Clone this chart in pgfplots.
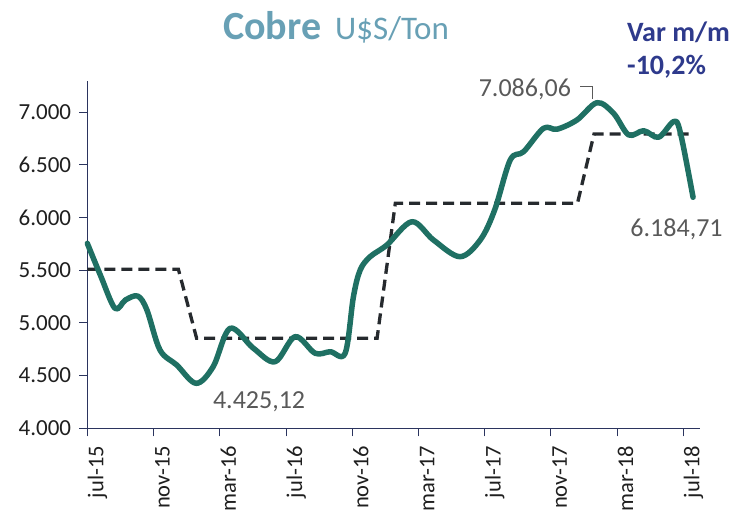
\documentclass[border=0pt]{standalone}
\usepackage{pgfplots}
\pgfplotsset{compat=1.18}
\usepackage{fontspec}
\setmainfont{Carlito}
\definecolor{cuGreen}{RGB}{31,112,99}
\definecolor{cuDash}{RGB}{38,42,46}
\definecolor{cuAxis}{RGB}{43,52,94}
\definecolor{cuTitle}{RGB}{104,160,181}
\definecolor{cuVar}{RGB}{46,58,140}
\definecolor{cuLabel}{RGB}{89,89,89}
\begin{document}
\begin{tikzpicture}[x=1bp,y=1bp]
\useasboundingbox (0,0) rectangle (740,513);
\node[anchor=base west, inner sep=0, text=cuTitle, font=\fontsize{40bp}{40bp}\selectfont\bfseries] at (223,473.7) {Cobre};
\node[anchor=base west, inner sep=0, text=cuTitle, font=\fontsize{33bp}{33bp}\selectfont] at (335,473.7) {U\$S/Ton};
\node[anchor=base west, inner sep=0, text=cuVar, font=\fontsize{28bp}{28bp}\selectfont\bfseries] at (627,471.3) {Var m/m};
\node[anchor=base west, inner sep=0, text=cuVar, font=\fontsize{28bp}{28bp}\selectfont\bfseries] at (627,438) {-10,2\%};
\begin{axis}[
  at={(87.3bp,84.7bp)}, anchor=south west,
  scale only axis, width=612.7bp, height=347.3bp,
  xmin=0, xmax=37, ymin=4000, ymax=7297,
  axis x line*=bottom, axis y line*=left,
  axis line style={cuAxis, line width=1.3bp, -},
  xtick={0,4,...,36},
  xticklabels={jul-15,nov-15,mar-16,jul-16,nov-16,mar-17,jul-17,nov-17,mar-18,jul-18},
  ytick={4000,4500,...,7000},
  yticklabels={4.000,4.500,5.000,5.500,6.000,6.500,7.000},
  tick align=outside, major tick length=8bp,
  tick style={cuAxis, line width=1bp},
  tick label style={font=\fontsize{23bp}{23bp}\selectfont, text=black!88, inner sep=0pt},
  xticklabel style={rotate=90, anchor=base east, yshift=-16bp, font=\fontsize{22.5bp}{22.5bp}\selectfont},
  xticklabel shift=9.5bp,
  yticklabel style={anchor=east},
  yticklabel shift=8bp,
  clip=false,
]
\addplot[cuDash, line width=3.3bp, dash pattern=on 11bp off 6bp] coordinates {
  (0,5510) (5.5,5510) (6.6,4855) (17.5,4855) (18.6,6136) (29.6,6136) (30.6,6794) (36.5,6794)
};
\addplot[cuGreen, line width=5.5bp, smooth, tension=0.55, line cap=round, line join=round] coordinates {
  (0,5756) (0.8,5450) (1.67,5139) (2.3,5218) (3.05,5255) (3.6,5123) (4.39,4743) (5.4,4601)
  (6.57,4427) (7.6,4585) (8.62,4949) (10.03,4760) (11.34,4632) (12.55,4870) (13.76,4712)
  (14.67,4727) (15.57,4712) (16.07,5249) (16.48,5503) (17.08,5629) (18.09,5740) (19.6,5961)
  (20.9,5788) (22.5,5629) (23.73,5788) (24.6,6073) (25.54,6547) (26.35,6626) (27.55,6848)
  (28.36,6839) (29.57,6927) (30.78,7091) (31.78,6990) (32.69,6785) (33.6,6825) (34.5,6763)
  (35.4,6911) (35.8,6816) (36.58,6193)
};
\node[anchor=base west, inner sep=0, text=cuLabel, font=\fontsize{26bp}{26bp}\selectfont] at (axis cs:7.58,4190) {4.425,12};
\node[anchor=base west, inner sep=0, text=cuLabel, font=\fontsize{26bp}{26bp}\selectfont] at (axis cs:23.63,7148) {7.086,06};
\node[anchor=base west, inner sep=0, text=cuLabel, font=\fontsize{26bp}{26bp}\selectfont] at (axis cs:32.79,5819) {6.184,71};
\draw[cuLabel, line width=0.8bp] (axis cs:29.77,7244) -- (axis cs:30.48,7244) -- (axis cs:30.48,7124);
\end{axis}
\end{tikzpicture}
\end{document}
